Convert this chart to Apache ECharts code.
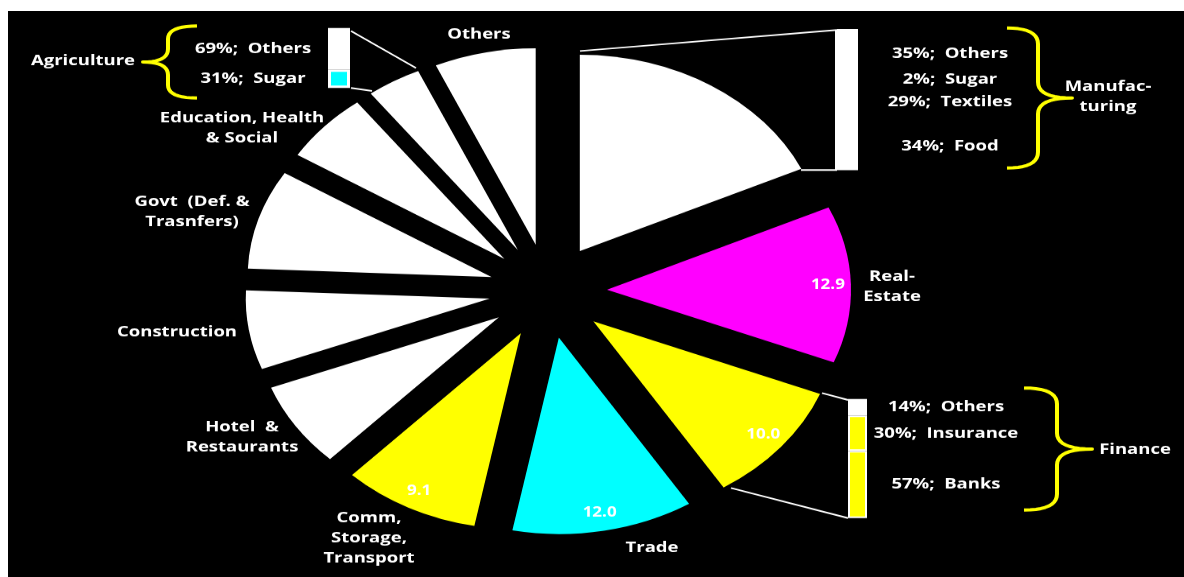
<!DOCTYPE html>
<html><head><meta charset="utf-8">
<script src="https://cdn.jsdelivr.net/npm/echarts/dist/echarts.min.js"></script>
<style>
html,body{margin:0;padding:0;background:#fff;width:1184px;height:577px;overflow:hidden;}
#bg{position:absolute;left:8px;top:11px;right:0;bottom:0;background:#000;}
#chart{position:absolute;left:0;top:0;width:1184px;height:717px;transform-origin:0 0;transform:scaleY(0.80474);}
</style></head><body><div id="bg"></div><div id="chart"></div>
<script>
// ---- data ----
const sectors = ['Manufacturing','Real-Estate','Finance','Trade','Comm, Storage, Transport','Hotel & Restaurants','Construction','Govt (Def. & Trasnfers)','Education, Health & Social','Agriculture','Others'];
const shares = [18.1, 12.9, 10.0, 12.0, 9.1, 7.0, 6.5, 8.2, 5.8, 3.6, 6.7];
const valueShown = [false, true, true, true, true, false, false, false, false, false, false];
const sectorColors = ['#ffffff','#ff00ff','#ffff00','#00ffff','#ffff00','#ffffff','#ffffff','#ffffff','#ffffff','#ffffff','#ffffff'];

const mfgParts = ['Others','Sugar','Textiles','Food'];
const mfgShares = [35, 2, 29, 34];
const mfgColors = ['#ffffff','#ffffff','#ffffff','#ffffff'];
const finParts = ['Others','Insurance','Banks'];
const finShares = [14, 30, 57];
const finColors = ['#ffffff','#ffff00','#ffff00'];
const agriParts = ['Others','Sugar'];
const agriShares = [69, 31];
const agriColors = ['#ffffff','#00ffff'];

// ---- layout helpers (screen px -> unscaled chart px) ----
const S = 577/717;
const Y = y => y / S;
const FS = 18.5;
const FONT = {fontFamily:'Open Sans', fontWeight:'bold', fontSize:FS};

const chart = echarts.init(document.getElementById('chart'), null, {renderer:'canvas'});

const center = [548, Y(291)];
const R = 244;

function sum(a){return a.reduce((s,v)=>s+v,0);}

const grids = [
  {left:837, top:Y(29), width:21, height:Y(170)-Y(29)},
  {left:848, top:Y(399), width:19, height:Y(518)-Y(399)},
  {left:328, top:Y(28), width:22, height:Y(88)-Y(28)}
];
const groups = [
  {parts:mfgParts, vals:mfgShares, colors:mfgColors, off:113, bw:0, bc:'#ffffff'},
  {parts:finParts, vals:finShares, colors:finColors, off:98, bw:2, bc:'#ffffff'},
  {parts:agriParts, vals:agriShares, colors:agriColors, off:-75, bw:3, bc:'#ffffff'}
];

const series = [];
series.push({
  type:'pie', center:center, radius:[0,R], startAngle:90, clockwise:true,
  selectedMode:'multiple', selectedOffset:59, silent:true, animation:false,
  label:{show:false}, labelLine:{show:false}, emphasis:{disabled:true},
  data: sectors.map((n,i)=>({name:n, value:shares[i], selected:true, itemStyle:{color:sectorColors[i]},
    select:{itemStyle:{color:sectorColors[i]}}}))
});
series.push({
  type:'pie', center:center, radius:[192,R], startAngle:90, clockwise:true,
  selectedMode:'multiple', selectedOffset:59, silent:true, animation:false,
  itemStyle:{color:'rgba(0,0,0,0)'}, labelLine:{show:false}, emphasis:{disabled:true},
  label:{position:'inside', color:'#fff', fontFamily:'Open Sans', fontWeight:'bold', fontSize:17,
    formatter: p => shares[p.dataIndex].toFixed(1)},
  data: sectors.map((n,i)=>({name:n, value:shares[i], selected:true, label:{show:valueShown[i]}}))
});

const xAxes = [], yAxes = [];
groups.forEach((g,gi)=>{
  xAxes.push({type:'category', data:[''], gridIndex:gi, show:false});
  yAxes.push({type:'value', min:0, max:sum(g.vals), gridIndex:gi, show:false});
  for (let k=g.parts.length-1; k>=0; k--) {
    series.push({
      type:'bar', xAxisIndex:gi, yAxisIndex:gi, stack:'s'+gi, barWidth:'100%', silent:true, animation:false,
      itemStyle:{color:g.colors[k], borderColor:g.bc, borderWidth:g.bw},
      label:{show:true, position:[g.off, '50%'], align:'center', verticalAlign:'middle',
        color:'#fff', fontFamily:'Open Sans', fontWeight:'bold', fontSize:FS,
        formatter: g.vals[k] + '%;  ' + g.parts[k]},
      data:[g.vals[k]]
    });
  }
});

// ---- annotations ----
function line(x1,y1,x2,y2){
  return {type:'line', silent:true, shape:{x1:x1,y1:Y(y1),x2:x2,y2:Y(y2)}, style:{stroke:'#fff', lineWidth:2}};
}
function quad(p0,p1,p2,n,out){
  for(let i=0;i<=n;i++){const t=i/n; const a=(1-t)*(1-t), b=2*(1-t)*t, c=t*t;
    out.push([a*p0[0]+b*p1[0]+c*p2[0], Y(a*p0[1]+b*p1[1]+c*p2[1])]);}
}
function brace(x0,x1,xt,y0,yt,y1,c){
  const pts=[];
  quad([x0,y0],[x1,y0],[x1,y0+c],10,pts);
  quad([x1,yt-c],[x1,yt],[xt,yt],10,pts);
  quad([xt,yt],[x1,yt],[x1,yt+c],10,pts);
  quad([x1,y1-c],[x1,y1],[x0,y1],10,pts);
  return {type:'polyline', silent:true, shape:{points:pts}, style:{stroke:'#ffff00', lineWidth:4, fill:null, lineJoin:'round'}};
}
function txt(x,y,t){
  return {type:'text', silent:true, x:x, y:Y(y), style:Object.assign({text:t, fill:'#fff', align:'center', verticalAlign:'middle', lineHeight:25}, FONT)};
}

const g0 = grids[0];
const graphics = [
  // white backing panel behind the manufacturing breakdown bar (hides anti-alias seams)
  {type:'rect', silent:true, z:-10, shape:{x:g0.left, y:g0.top, width:g0.width, height:g0.height}, style:{fill:'#ffffff'}},
  line(580,51,837,30), line(801,170,837,170), line(836,30,836,170),
  line(822,393,848,400), line(731,488,848,518),
  line(351,31,416,68), line(351,88,372,91),
  brace(1007,1038,1072,28,98,168,16),
  brace(1024,1057,1092,388,449,510,16),
  brace(197,168,143,26,62,98,13),
  txt(479,34,'Others'),
  txt(242,128,'Education, Health\n& Social'),
  txt(192,212,'Govt  (Def. &\nTrasnfers)'),
  txt(177,332,'Construction'),
  txt(242,437,'Hotel  &\nRestaurants'),
  txt(369,538,'Comm,\nStorage,\nTransport'),
  txt(652,548,'Trade'),
  txt(892,287,'Real-\nEstate'),
  txt(83,61,'Agriculture'),
  txt(1108,97,'Manufac-\nturing'),
  txt(1135,450,'Finance')
];

chart.setOption({
  backgroundColor:'transparent',
  animation:false,
  grid: grids,
  xAxis: xAxes,
  yAxis: yAxes,
  series: series,
  graphic: {elements: graphics}
});
</script></body></html>
